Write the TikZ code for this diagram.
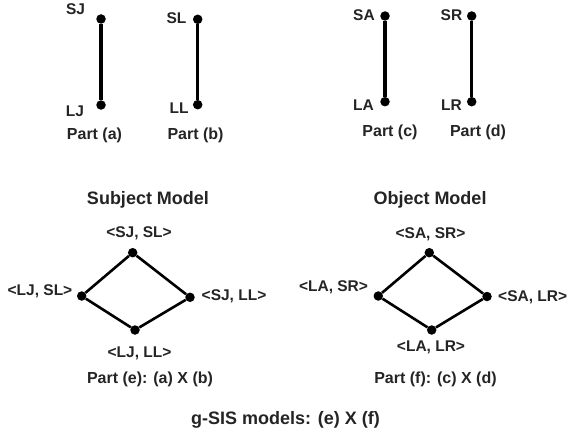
\documentclass[tikz,border=0pt]{standalone}
\usepackage{fontspec}
\setmainfont{Liberation Sans}
\definecolor{txt}{HTML}{242424}
\begin{document}
\begin{tikzpicture}[x=1pt,y=-1pt,
  dot/.style={circle,fill=black,inner sep=0pt,minimum size=9.5pt},
  lbl/.style={inner sep=0pt,text=txt,font=\fontsize{15.5}{18}\selectfont\bfseries},
  part/.style={inner sep=0pt,text=txt,font=\fontsize{16}{19}\selectfont\bfseries},
  ttl/.style={inner sep=0pt,text=txt,font=\fontsize{18}{21}\selectfont\bfseries},
  vline/.style={line width=3.2pt,black},
  dline/.style={line width=2.6pt,black}]
\useasboundingbox (0,0) rectangle (567,436);
% Part (a)
\node[dot] (sj) at (101,19) {};
\node[dot] (lj) at (101,105) {};
\draw[vline] (sj) -- (lj);
\node[lbl] (tsj) at (75.5,9.5) {SJ};
\node[lbl] (tlj) at (75,111.5) {LJ};
\node[part] (pa) at (94.5,135.5) {Part (a)};
% Part (b)
\node[dot] (sl) at (197.7,19.3) {};
\node[dot] (ll) at (197.7,104.7) {};
\draw[vline] (sl) -- (ll);
\node[lbl] (tsl) at (176.5,18) {SL};
\node[lbl] (tll) at (179,108) {LL};
\node[part] (pb) at (195.5,135.5) {Part (b)};
% Part (c)
\node[dot] (sa) at (385,16) {};
\node[dot] (la) at (385,101.7) {};
\draw[vline] (sa) -- (la);
\node[lbl] (tsa) at (364,15) {SA};
\node[lbl] (tla) at (363.5,105.5) {LA};
\node[part] (pc) at (390,132) {Part (c)};
% Part (d)
\node[dot] (sr) at (471.7,16) {};
\node[dot] (lr) at (471.7,101.7) {};
\draw[vline] (sr) -- (lr);
\node[lbl] (tsr) at (451.5,15) {SR};
\node[lbl] (tlr) at (451.5,105.5) {LR};
\node[part] (pd) at (478,132) {Part (d)};
% Subject model
\node[ttl] (sm) at (148,199.5) {Subject Model};
\node[dot] (et) at (132.7,252.7) {};
\node[dot] (el) at (81.7,296) {};
\node[dot] (er) at (190,297.3) {};
\node[dot] (eb) at (135,330) {};
\draw[dline] (et) -- (el) -- (eb) -- (er) -- (et);
\node[lbl] (tet) at (139,233) {<SJ, SL>};
\node[lbl] (tel) at (40,291) {<LJ, SL>};
\node[lbl] (ter) at (234,296.5) {<SJ, LL>};
\node[lbl] (teb) at (139.5,353) {<LJ, LL>};
\node[part] (pe) at (150,379.5) {Part (e): (a) X (b)};
% Object model
\node[ttl] (om) at (430,199.5) {Object Model};
\node[dot] (ft) at (429.3,252.7) {};
\node[dot] (fl) at (378.3,296) {};
\node[dot] (fr) at (487,296.5) {};
\node[dot] (fb) at (431.7,330) {};
\draw[dline] (ft) -- (fl) -- (fb) -- (fr) -- (ft);
\node[lbl] (tft) at (430.5,234.5) {<SA, SR>};
\node[lbl] (tfl) at (333.5,287) {<LA, SR>};
\node[lbl,anchor=west] (tfr) at (498,297) {<SA, LR>};
\node[lbl] (tfb) at (431,347.5) {<LA, LR>};
\node[part] (pf) at (435.5,379.5) {Part (f): (c) X (d)};
% bottom
\node[ttl] (gs) at (285.5,420) {g-SIS models: (e) X (f)};
\end{tikzpicture}
\end{document}
